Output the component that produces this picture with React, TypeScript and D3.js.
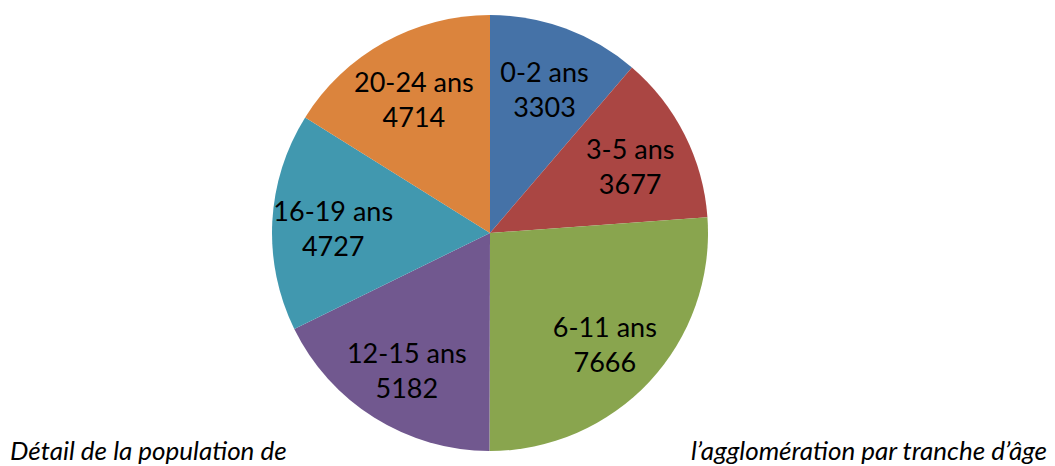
import * as d3 from "d3"

const categories = ["0-2 ans", "3-5 ans", "6-11 ans", "12-15 ans", "16-19 ans", "20-24 ans"]
const values = [3303, 3677, 7666, 5182, 4727, 4714]
const colors = ["#4572A7", "#AA4643", "#89A54E", "#71588F", "#4198AF", "#DB843D"]
const captionLeft = "Détail de la population de"
const captionRight = "l’agglomération par tranche d’âge"

const width = 1055
const height = 466

export default function App() {
  const cx = 490
  const cy = 233
  const radius = 218
  const labelRadius = 157

  const rows = categories.map((c, i) => ({ category: c, value: values[i], color: colors[i] }))

  // slices clockwise from 12 o'clock, in data order
  const pie = d3
    .pie<{ category: string; value: number; color: string }>()
    .value((d) => d.value)
    .sort(null)

  const arc = d3.arc<d3.PieArcDatum<any>>().innerRadius(0).outerRadius(radius)
  const labelArc = d3.arc<d3.PieArcDatum<any>>().innerRadius(labelRadius).outerRadius(labelRadius)

  const arcs = pie(rows)
  const font = "Lato, 'Open Sans', sans-serif"
  const lineHeight = 35

  return (
    <svg
      width={width}
      height={height}
      style={{ position: "absolute", left: 0, top: 0, background: "#fff" }}
    >
      <g transform={`translate(${cx},${cy})`}>
        {arcs.map((a, i) => (
          <path key={i} d={arc(a) as string} fill={a.data.color} />
        ))}
        {arcs.map((a, i) => {
          const [x, y] = labelArc.centroid(a)
          return (
            <text
              key={"l" + i}
              x={x}
              y={y}
              textAnchor="middle"
              fontFamily={font}
              fontSize={27}
              fill="#000"
            >
              <tspan x={x} dy={-lineHeight / 2 + 14}>
                {a.data.category}
              </tspan>
              <tspan x={x} dy={lineHeight}>
                {a.data.value}
              </tspan>
            </text>
          )
        })}
      </g>
      <text x={10} y={460} fontFamily={font} fontStyle="italic" fontSize={26} fill="#000">
        {captionLeft}
      </text>
      <text
        x={1047}
        y={460}
        textAnchor="end"
        fontFamily={font}
        fontStyle="italic"
        fontSize={26}
        fill="#000"
      >
        {captionRight}
      </text>
    </svg>
  )
}
